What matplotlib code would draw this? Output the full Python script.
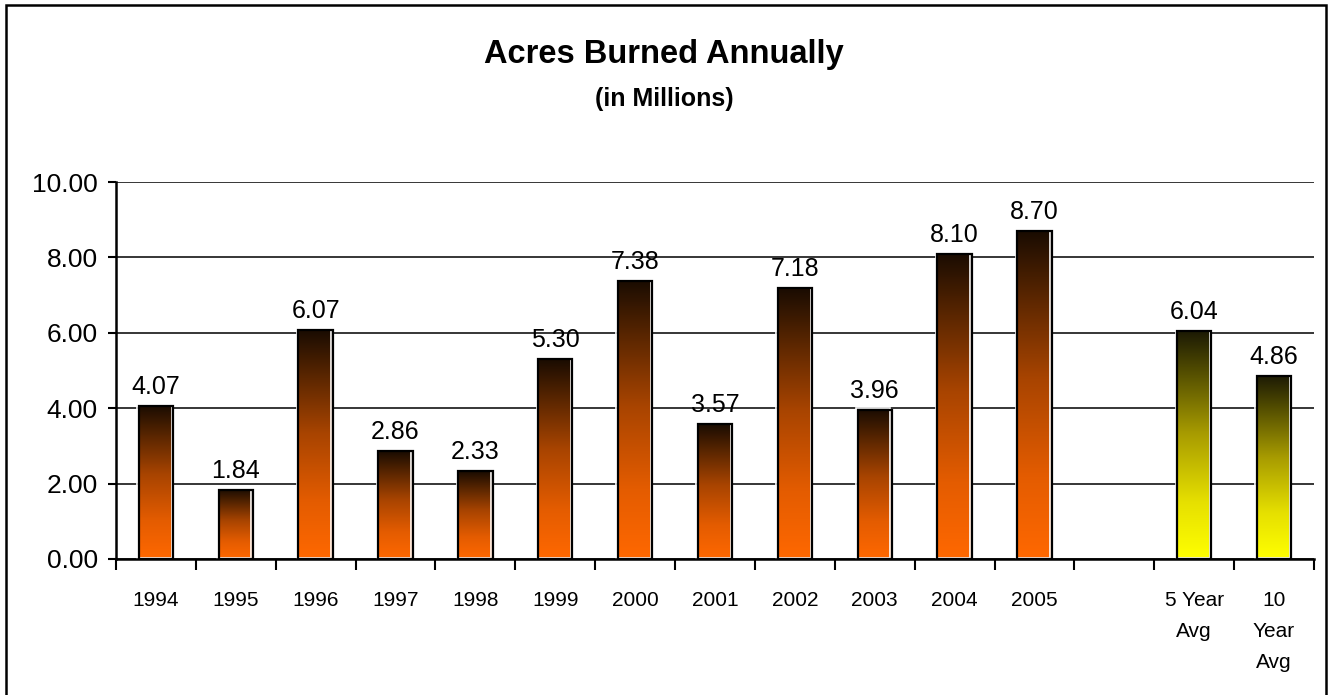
import matplotlib
matplotlib.use('Agg')
import numpy as np
import matplotlib.pyplot as plt
from matplotlib.colors import LinearSegmentedColormap
from matplotlib.patches import Rectangle
import matplotlib.transforms as mtransforms

plt.rcParams['font.family'] = ['Liberation Sans', 'DejaVu Sans']

# data
years = ['1994', '1995', '1996', '1997', '1998', '1999', '2000',
         '2001', '2002', '2003', '2004', '2005']
acres = [4.07, 1.84, 6.07, 2.86, 2.33, 5.30, 7.38, 3.57, 7.18, 3.96, 8.10, 8.70]
avg_labels = ['5 Year\nAvg', '10\nYear\nAvg']
avg_values = [6.04, 4.86]

categories = years + [''] + avg_labels
y_ticks = [0, 2, 4, 6, 8, 10]

fig = plt.figure(figsize=(13.28, 6.95), dpi=100)
ax = fig.add_axes([116 / 1328, 1 - 559 / 695, (1314 - 116) / 1328, (559 - 182) / 695])

orange_cmap = LinearSegmentedColormap.from_list(
    'orange', [(0, '#ff6800'), (0.25, '#e45c00'), (0.55, '#a84400'), (0.8, '#5a2600'), (1, '#1a0c02')])
yellow_cmap = LinearSegmentedColormap.from_list(
    'yellow', [(0, '#ffff00'), (0.25, '#e6e000'), (0.55, '#a89c00'), (0.8, '#5a5400'), (1, '#1c1a04')])

x_years = np.arange(len(years))
x_avg = np.arange(len(years) + 1, len(categories))
width = 0.43

bars_y = ax.bar(x_years, acres, width=width, color='none', edgecolor='black', linewidth=1.6, zorder=4)
bars_a = ax.bar(x_avg, avg_values, width=width, color='none', edgecolor='black', linewidth=1.6, zorder=4)

grad = np.linspace(0, 1, 256).reshape(-1, 1)
highlight = mtransforms.offset_copy(ax.transData, fig=fig, x=-1.5, y=1.5, units='dots')
for bars, cmap in [(bars_y, orange_cmap), (bars_a, yellow_cmap)]:
    for b in bars:
        x0, w, h = b.get_x(), b.get_width(), b.get_height()
        im = ax.imshow(grad, cmap=cmap, aspect='auto', origin='lower',
                       extent=[x0, x0 + w, 0, h], zorder=3)
        im.set_clip_path(b)
        ax.add_patch(Rectangle((x0, 0), w, h, fill=False, edgecolor='white',
                               linewidth=1.2, transform=highlight, zorder=3.5))
        ax.annotate(f'{h:.2f}', (x0 + w / 2, h), xytext=(0, 5), textcoords='offset points',
                    ha='center', va='bottom', fontsize=18, color='black', zorder=5)

ax.set_xlim(-0.5, len(categories) - 0.5)
ax.set_ylim(0, 10)
ax.set_yticks(y_ticks)
ax.set_yticklabels([f'{v:.2f}' for v in y_ticks], fontsize=19)
ax.yaxis.grid(True, color='black', linewidth=1.1)
ax.set_axisbelow(True)

ax.set_xticks(np.arange(len(categories)))
ax.set_xticklabels(categories, fontsize=15, linespacing=1.8, va='top')
ax.set_xticks(np.arange(len(categories) + 1) - 0.5, minor=True)
ax.tick_params(axis='x', which='major', length=0, pad=23)
ax.tick_params(axis='x', which='minor', length=8, width=1.5, direction='out')
ax.tick_params(axis='y', length=6, width=1.5, direction='out', pad=7)

for side in ['top', 'right']:
    ax.spines[side].set_visible(False)
for side in ['left', 'bottom']:
    ax.spines[side].set_linewidth(1.8)
    ax.spines[side].set_zorder(6)

fig.text(0.5, 1 - 55 / 695, 'Acres Burned Annually', ha='center', va='center',
         fontsize=23.5, fontweight='bold')
fig.text(0.5, 1 - 99 / 695, '(in Millions)', ha='center', va='center',
         fontsize=18, fontweight='bold')

border = Rectangle((6 / 1328, -0.05), (1326 - 6) / 1328, 1.05 - 5 / 695, fill=False,
                   edgecolor='black', linewidth=1.8, transform=fig.transFigure, clip_on=False)
fig.add_artist(border)

fig.savefig('out.png', dpi=100, facecolor='white')
